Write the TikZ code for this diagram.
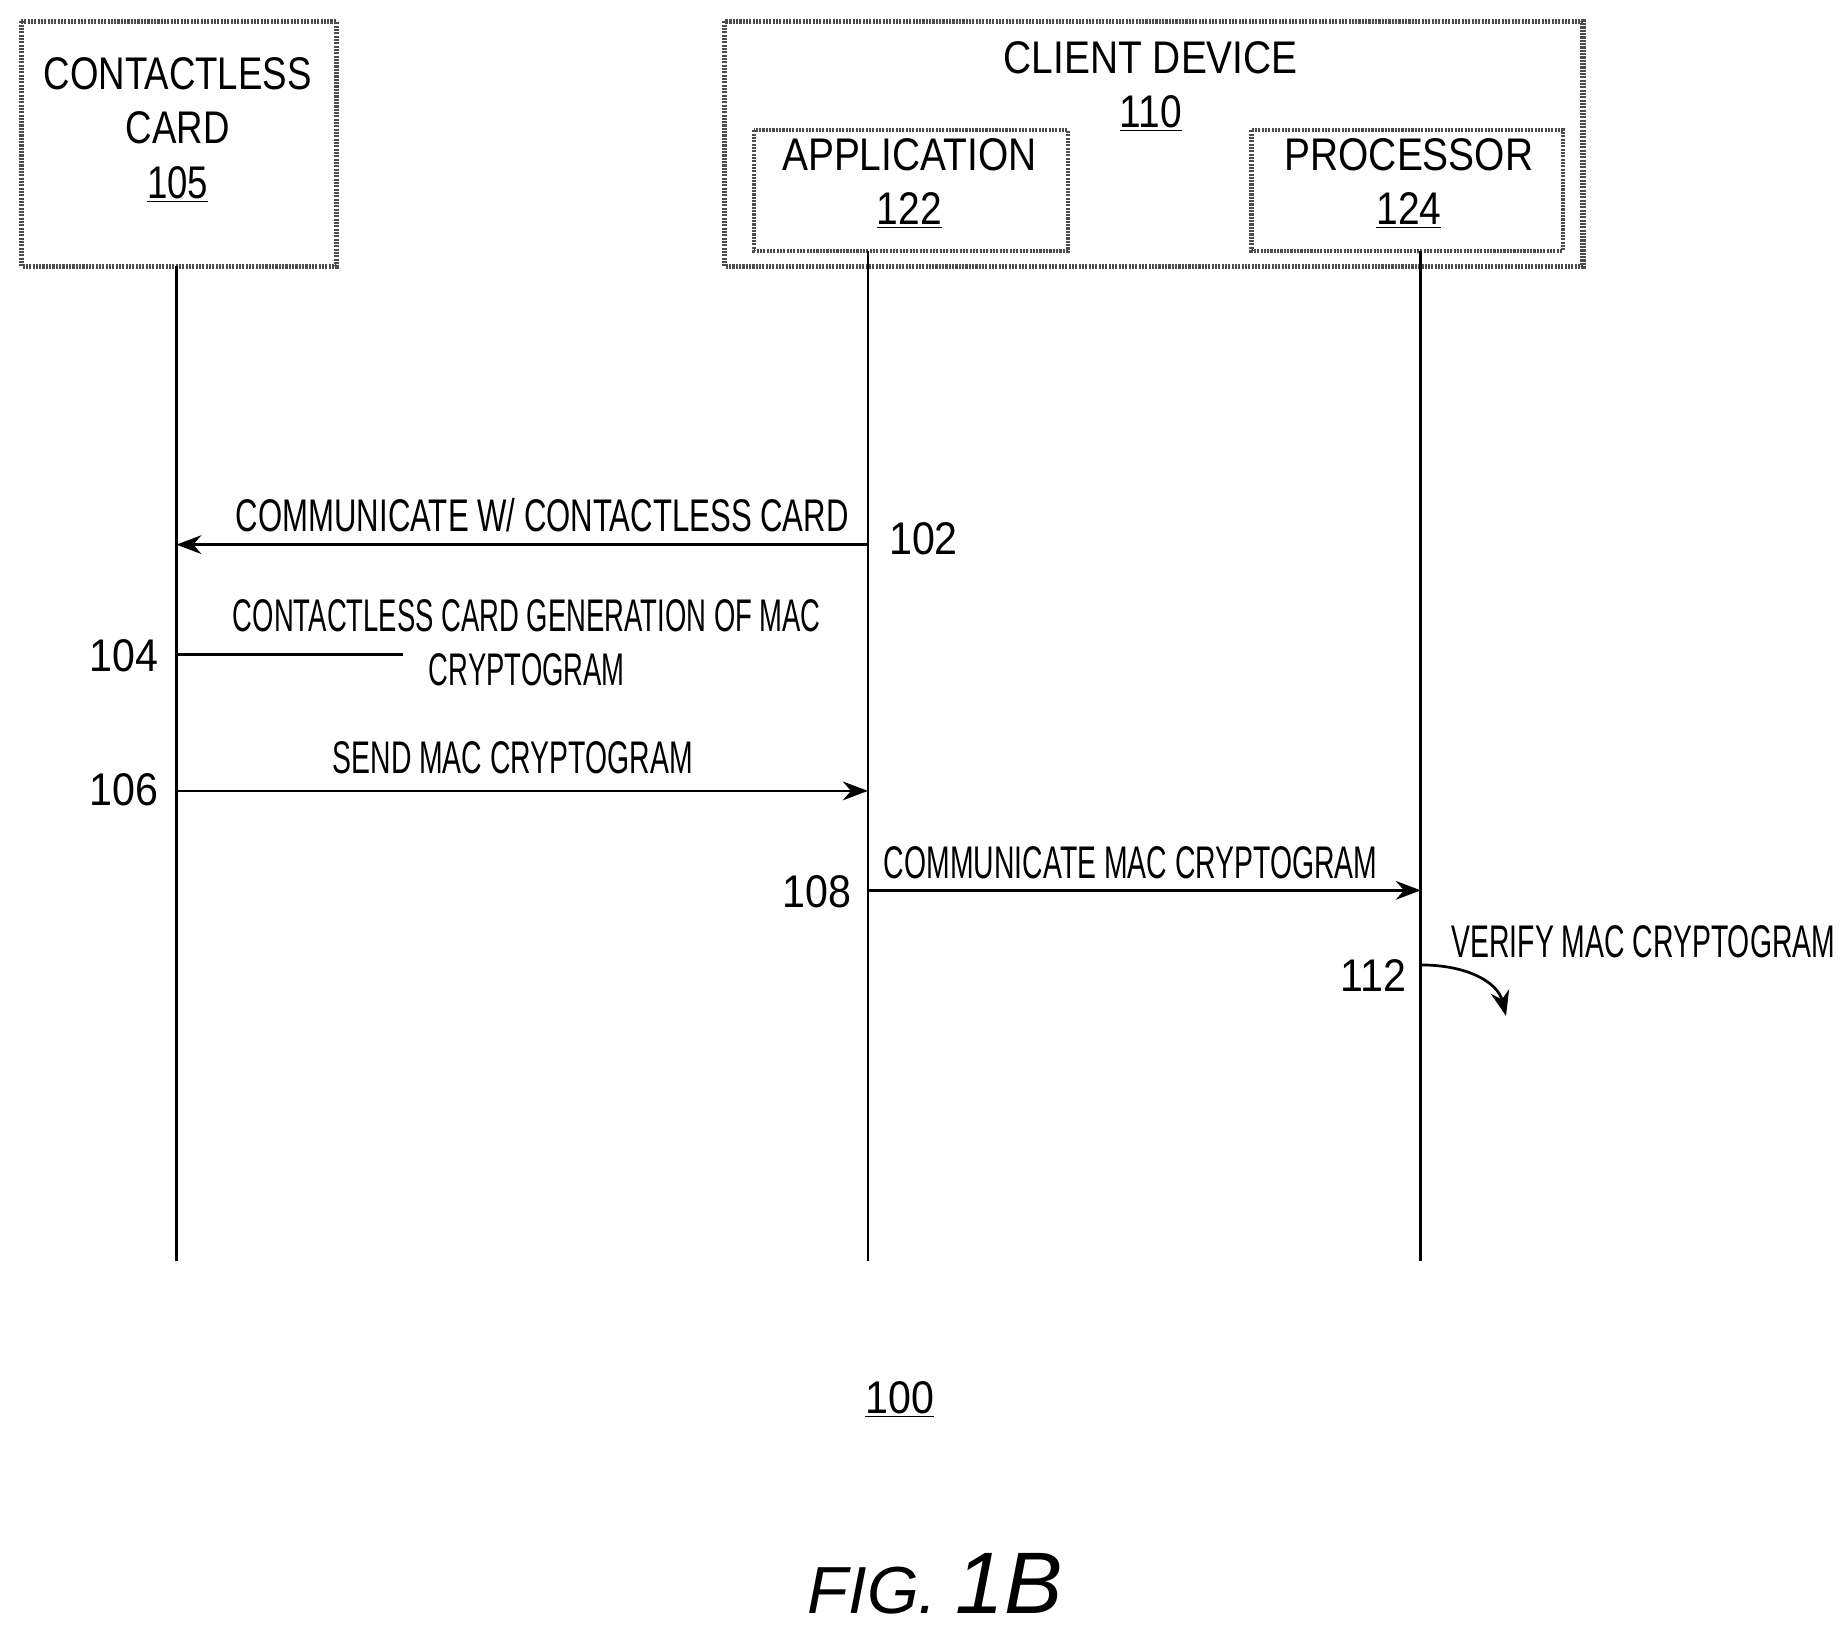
\documentclass[tikz,border=0pt]{standalone}
\usepackage{fontspec}
\setmainfont{Liberation Sans}
\usetikzlibrary{arrows.meta}
\newcommand{\narrow}[2][0.62]{\scalebox{#1}[1]{#2}}
\begin{document}
\begin{tikzpicture}[x=0.02cm, y=-0.02cm, >={Stealth[length=12pt,width=9pt]},
    font=\fontsize{22}{26}\selectfont]

    % Styles
    \tikzset{
      hatch/.style = {draw=black!70, line width=2.5pt, dash pattern=on 1pt off 0.6pt},
      inbox/.style = {hatch, line width=2pt},
      title/.style = {align=center, inner sep=0pt},
      msg/.style = {inner sep=0pt, align=center},
      num/.style = {inner sep=0pt},
      life/.style = {line width=1.3pt},
      arrow/.style = {->, line width=1.3pt}
    }

    \useasboundingbox (0,0) rectangle (1560,1380);

    % Boxes
    \draw[hatch] (18,18) rectangle (284,225);
    \draw[hatch] (612,18) rectangle (1337,225);
    \draw[inbox] (637,110) rectangle (902,212);
    \draw[inbox] (1057,110) rectangle (1320,212);

    \node[title] (card) at (150,110) {\narrow[0.8]{CONTACTLESS}\\[0pt]\narrow[0.8]{CARD}\\[0pt]\narrow[0.8]{\underline{105}}};
    \node[title] (client) at (972,73) {\narrow[0.85]{CLIENT DEVICE}\\[0pt]\narrow[0.85]{\underline{110}}};
    \node[title] (app) at (768,155) {\narrow[0.85]{APPLICATION}\\[0pt]\narrow[0.85]{\underline{122}}};
    \node[title] (proc) at (1190,155) {\narrow[0.85]{PROCESSOR}\\[0pt]\narrow[0.85]{\underline{124}}};

    % Lifelines
    \coordinate (cardtop) at (149,225);
    \coordinate (cardbot) at (149,1065);
    \coordinate (apptop) at (733,212);
    \coordinate (appbot) at (733,1065);
    \coordinate (proctop) at (1200,212);
    \coordinate (procbot) at (1200,1065);
    \draw[life] (cardtop) -- (cardbot);
    \draw[life] (apptop) -- (appbot);
    \draw[life] (proctop) -- (procbot);

    % Messages
    \coordinate (a102) at (733,460);
    \coordinate (c102) at (149,460);
    \draw[arrow] (a102) -- (c102);
    \node[msg] (m102) at (458,435) {\narrow[0.68]{COMMUNICATE W/ CONTACTLESS CARD}};
    \node[num] (n102) at (780,455) {\narrow[0.9]{102}};

    \coordinate (c104) at (149,553);
    \coordinate (e104) at (340,553);
    \draw[life] (c104) -- (e104);
    \node[msg] (m104) at (445,543) {\narrow[0.6]{CONTACTLESS CARD GENERATION OF MAC}\\[0pt]\narrow[0.6]{CRYPTOGRAM}};
    \node[num] (n104) at (105,554) {\narrow[0.9]{104}};

    \coordinate (c106) at (149,668);
    \coordinate (a106) at (733,668);
    \draw[arrow] (c106) -- (a106);
    \node[msg] (m106) at (433,640) {\narrow{SEND MAC CRYPTOGRAM}};
    \node[num] (n106) at (105,667) {\narrow[0.9]{106}};

    \coordinate (a108) at (733,752);
    \coordinate (p108) at (1200,752);
    \draw[arrow] (a108) -- (p108);
    \node[msg] (m108) at (955,729) {\narrow{COMMUNICATE MAC CRYPTOGRAM}};
    \node[num] (n108) at (690,753) {\narrow[0.9]{108}};

    \coordinate (p112) at (1200,815);
    \coordinate (e112) at (1272,858);
    \draw[arrow] (p112) .. controls (1240,815) and (1265,830) .. (e112);
    \node[msg] (m112) at (1388,795) {\narrow{VERIFY MAC CRYPTOGRAM}};
    \node[num] (n112) at (1160,824) {\narrow[0.9]{112}};

    % Figure labels
    \node[num] (fig100) at (760,1182) {\narrow[0.9]{\underline{100}}};
    \node[num] (figlab) at (790,1338) {\fontsize{32}{38}\selectfont\itshape FIG. \fontsize{42}{48}\selectfont 1B};

\end{tikzpicture}
\end{document}
